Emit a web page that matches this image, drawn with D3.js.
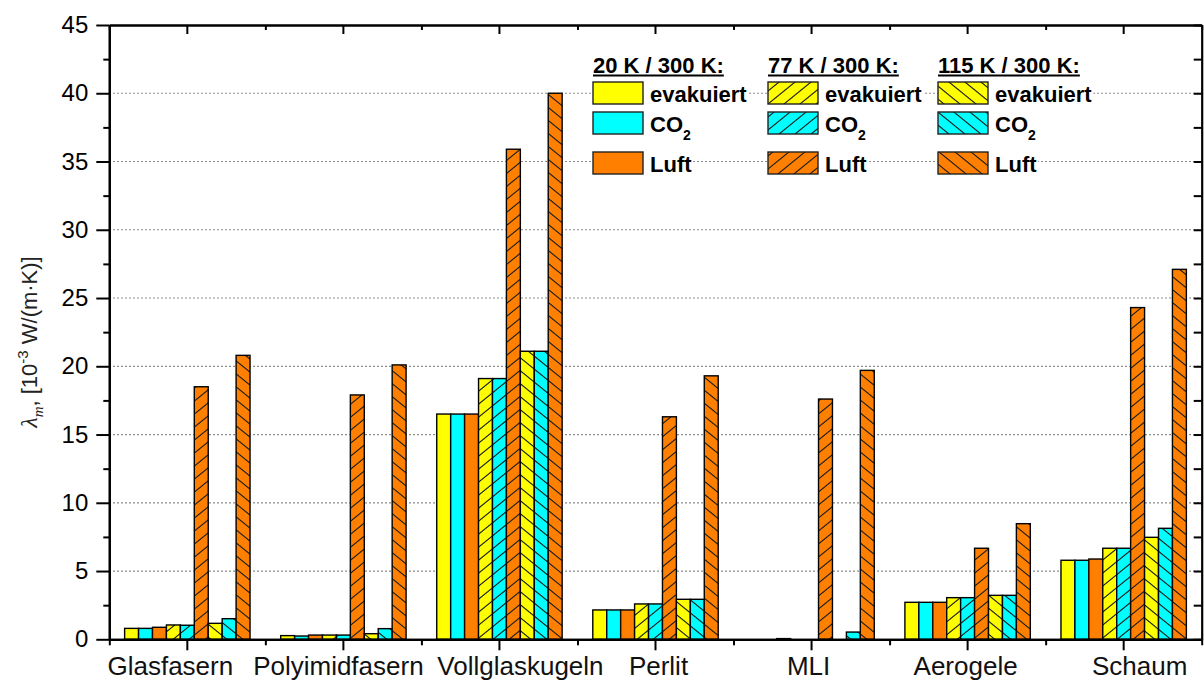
<!DOCTYPE html>
<html>
<head>
<meta charset="utf-8">
<script src="https://cdn.jsdelivr.net/npm/d3@7"></script>
<style>
  body { margin: 0; background: #fff; }
  svg text { font-family: "Liberation Sans", Arial, sans-serif; }
</style>
</head>
<body>
<svg id="chart" width="1204" height="681"></svg>
<script>
// Insulation materials
const categories = ["Glasfasern", "Polyimidfasern", "Vollglaskugeln", "Perlit", "MLI", "Aerogele", "Schaum"];

// Mean thermal conductivity λm in 10^-3 W/(m·K), boundary temperatures cold / warm
const evak20  = [0.80, 0.27, 16.5, 2.15, 0.00, 2.71, 5.79];
const co2_20  = [0.80, 0.24, 16.5, 2.15, 0.00, 2.71, 5.79];
const luft20  = [0.88, 0.31, 16.5, 2.15, 0.05, 2.71, 5.88];
const evak77  = [1.05, 0.31, 19.1, 2.59, 0.00, 3.05, 6.67];
const co2_77  = [1.03, 0.31, 19.1, 2.59, 0.00, 3.05, 6.67];
const luft77  = [18.5, 17.9, 35.9, 16.3, 17.6, 6.67, 24.3];
const evak115 = [1.17, 0.41, 21.1, 2.93, 0.00, 3.22, 7.47];
const co2_115 = [1.51, 0.78, 21.1, 2.93, 0.53, 3.22, 8.13];
const luft115 = [20.8, 20.1, 40.0, 19.3, 19.7, 8.47, 27.1];

const temperatureLabels = ["20 K / 300 K:", "77 K / 300 K:", "115 K / 300 K:"];
const mediumLabels = ["evakuiert", "CO2", "Luft"];
const yMajorTicks = [0, 5, 10, 15, 20, 25, 30, 35, 40, 45];
const yMinorTicks = [2.5, 7.5, 12.5, 17.5, 22.5, 27.5, 32.5, 37.5, 42.5];

// ---- layout / style ----
const plot = { left: 109.3, right: 1201.7, top: 25, bottom: 639.3 };
const mediumColors = ["#ffff00", "#00ffff", "#ff8000"];
const hatchDirs = [null, "fwd", "back"];
const labelNudge = [-17, -5, 21, 3, -3, -2, 16];

const svg = d3.select("#chart");
const defs = svg.append("defs");

const y = d3.scaleLinear().domain([0, 45]).range([plot.bottom, plot.top]);
const x0 = d3.scaleBand().domain(categories).range([plot.left, plot.right]).padding(0);

const seriesValues = [
  [evak20, co2_20, luft20],
  [evak77, co2_77, luft77],
  [evak115, co2_115, luft115]
];
const series = [];
seriesValues.forEach((group, t) => {
  group.forEach((vals, m) => {
    series.push({ key: t + "-" + m, t, m, values: vals });
  });
});

const x1 = d3.scaleBand()
  .domain(series.map(s => s.key))
  .range([0, x0.bandwidth()])
  .paddingInner(0)
  .paddingOuter(1.1);

// hatch patterns: "/" for 77 K, "\" for 115 K
const hw = 16, hh = 13;
function makePattern(id, color, dir) {
  const p = defs.append("pattern")
    .attr("id", id)
    .attr("patternUnits", "userSpaceOnUse")
    .attr("width", hw).attr("height", hh);
  p.append("rect").attr("width", hw).attr("height", hh).attr("fill", color);
  const kx = 2 * hw / hh;
  const d = dir === "fwd"
    ? `M0,${hh} L${hw},0 M${-kx},2 L${kx},-2 M${hw - kx},${hh + 2} L${hw + kx},${hh - 2}`
    : `M0,0 L${hw},${hh} M${-kx},${hh - 2} L${kx},${hh + 2} M${hw - kx},-2 L${hw + kx},2`;
  p.append("path").attr("d", d).attr("stroke", "#1e1e1e").attr("stroke-width", 1.1).attr("fill", "none");
}
function fillFor(t, m) {
  if (!hatchDirs[t]) return mediumColors[m];
  return `url(#hatch-${hatchDirs[t]}-${m})`;
}
mediumColors.forEach((c, m) => {
  makePattern(`hatch-fwd-${m}`, c, "fwd");
  makePattern(`hatch-back-${m}`, c, "back");
});

// dotted grid lines
svg.append("g")
  .selectAll("line")
  .data(yMajorTicks.filter(v => v > 0 && v < 45))
  .join("line")
  .attr("x1", plot.left).attr("x2", plot.right)
  .attr("y1", d => y(d)).attr("y2", d => y(d))
  .attr("stroke", "#666")
  .attr("stroke-width", 1.2)
  .attr("stroke-dasharray", "1.5 2.5");

// bars
const barG = svg.append("g");
categories.forEach((cat, i) => {
  barG.append("g")
    .selectAll("rect")
    .data(series.filter(s => s.values[i] > 0))
    .join("rect")
    .attr("x", s => x0(cat) + x1(s.key))
    .attr("y", s => y(s.values[i]))
    .attr("width", x1.bandwidth())
    .attr("height", s => y(0) - y(s.values[i]))
    .attr("fill", s => fillFor(s.t, s.m))
    .attr("stroke", "#000")
    .attr("stroke-width", 1.4);
});

// axes
function styleAxis(g) {
  g.selectAll("path.domain").attr("stroke", "#000").attr("stroke-width", 2.2);
  g.selectAll(".tick line").attr("stroke", "#000").attr("stroke-width", 2);
}
// left
svg.append("g")
  .attr("transform", `translate(${plot.left},0)`)
  .call(d3.axisLeft(y).tickValues(yMinorTicks).tickSize(6).tickSizeOuter(0).tickFormat(""))
  .call(styleAxis);
const leftAxis = svg.append("g")
  .attr("transform", `translate(${plot.left},0)`)
  .call(d3.axisLeft(y).tickValues(yMajorTicks).tickSize(13).tickSizeOuter(0).tickPadding(8))
  .call(styleAxis);
leftAxis.selectAll(".tick text")
  .attr("font-size", 24)
  .attr("fill", "#000")
  .style("font-family", "'Liberation Sans', Arial, sans-serif");

// right (inward ticks)
svg.append("g")
  .attr("transform", `translate(${plot.right},0)`)
  .call(d3.axisRight(y).tickValues(yMajorTicks.concat(yMinorTicks)).tickSize(-8).tickSizeOuter(0).tickFormat(""))
  .call(styleAxis);

// bottom: major ticks at categories, minor at group boundaries
const xEdges = d3.scaleLinear().domain([0, categories.length]).range([plot.left, plot.right]);
svg.append("g")
  .attr("transform", `translate(0,${plot.bottom})`)
  .call(d3.axisBottom(xEdges).tickValues(d3.range(categories.length + 1)).tickSize(6).tickSizeOuter(0).tickFormat(""))
  .call(styleAxis);
svg.append("g")
  .attr("transform", `translate(0,${plot.bottom})`)
  .call(d3.axisBottom(x0).tickSize(11).tickSizeOuter(0).tickFormat(""))
  .call(styleAxis);

// top (inward ticks)
svg.append("g")
  .attr("transform", `translate(0,${plot.top})`)
  .call(d3.axisTop(xEdges).tickValues(d3.range(categories.length + 1)).tickSize(-5).tickSizeOuter(0).tickFormat(""))
  .call(styleAxis);
svg.append("g")
  .attr("transform", `translate(0,${plot.top})`)
  .call(d3.axisTop(x0).tickSize(-9).tickSizeOuter(0).tickFormat(""))
  .call(styleAxis);

// category labels
svg.append("g")
  .selectAll("text")
  .data(categories)
  .join("text")
  .attr("x", (d, i) => x0(d) + x0.bandwidth() / 2 + labelNudge[i])
  .attr("y", 675)
  .attr("text-anchor", "middle")
  .attr("font-size", 26)
  .attr("fill", "#111")
  .text(d => d);

// y axis title
const yTitle = svg.append("text")
  .attr("transform", "translate(37,342) rotate(-90)")
  .attr("text-anchor", "middle")
  .attr("font-size", 22)
  .attr("fill", "#222");
yTitle.append("tspan").attr("font-family", "'Liberation Serif', serif").attr("font-style", "italic").attr("font-size", 24).text("λ");
yTitle.append("tspan").attr("font-family", "'Liberation Serif', serif").attr("font-style", "italic").attr("font-size", 15).attr("dy", 6).text("m");
yTitle.append("tspan").attr("dy", -6).text(", [10");
yTitle.append("tspan").attr("font-size", 15).attr("dy", -9).text("-3");
yTitle.append("tspan").attr("dy", 9).text(" W/(m·K)]");

// legend
const legCols = [593, 768, 938];
const legRows = [82, 112, 152];
const sw = { w: 50, h: 22 };
const legend = svg.append("g").attr("font-weight", "bold").attr("font-size", 22).attr("fill", "#000");

temperatureLabels.forEach((lab, t) => {
  const hx = legCols[t];
  const head = legend.append("text").attr("x", hx).attr("y", 73).text(lab);
  const len = head.node().getComputedTextLength();
  legend.append("line")
    .attr("x1", hx).attr("x2", hx + len)
    .attr("y1", 75.5).attr("y2", 75.5)
    .attr("stroke", "#000").attr("stroke-width", 2);

  mediumLabels.forEach((med, m) => {
    const ry = legRows[m];
    const item = legend.append("g");
    const bg = item.append("rect").attr("fill", "#fff");
    item.append("rect")
      .attr("x", hx).attr("y", ry)
      .attr("width", sw.w).attr("height", sw.h)
      .attr("fill", fillFor(t, m))
      .attr("stroke", "#222").attr("stroke-width", 1.4);
    const txt = item.append("text").attr("x", hx + sw.w + 7).attr("y", ry + 20);
    if (med === "CO2") {
      txt.append("tspan").text("CO");
      txt.append("tspan").attr("font-size", 14).attr("dy", 8).text("2");
    } else {
      txt.text(med);
    }
    const bb = txt.node().getBBox();
    bg.attr("x", hx + sw.w).attr("y", bb.y)
      .attr("width", bb.x + bb.width - hx - sw.w + 1).attr("height", bb.height);
  });
});
</script>
</body>
</html>
